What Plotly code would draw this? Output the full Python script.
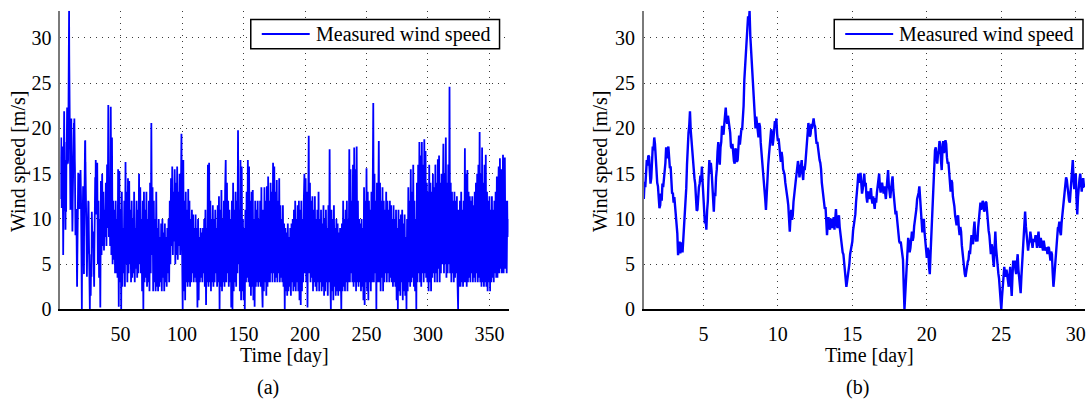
import numpy as np
import plotly.graph_objects as go

# ---------------------------------------------------------------------------
# Measured wind speed [m/s]
# January record, sampled every 0.05 day starting on day 1 (one row per day)
speed_jan = [
    12.2, 14.1, 13.5, 15.2, 16.5, 15.9, 17.0, 16.9, 15.5, 13.9, 14.5, 16.8, 18.0, 17.6, 19.0, 18.3, 16.5, 15.1, 14.0, 13.6,
    12.5, 11.2, 11.5, 12.8, 12.0, 13.9, 13.5, 14.2, 15.5, 16.2, 17.9, 16.7, 17.5, 18.0, 16.8, 15.6, 15.8, 14.6, 12.8, 12.9,
    11.8, 12.4, 11.5, 10.2, 9.8, 8.4, 6.0, 7.1, 7.5, 6.2, 6.8, 7.4, 6.3, 7.6, 9.5, 11.4, 12.5, 13.4, 16.0, 18.5,
    19.5, 20.3, 21.9, 19.8, 18.5, 17.9, 16.8, 15.2, 14.5, 13.9, 12.5, 10.9, 11.0, 12.6, 13.5, 13.9, 14.8, 14.1, 15.8, 14.0,
    12.8, 10.6, 9.5, 9.9, 8.8, 10.9, 12.0, 14.6, 16.5, 15.1, 16.2, 15.3, 14.0, 11.8, 10.8, 12.9, 12.5, 14.6, 15.5, 17.4,
    18.5, 16.9, 16.0, 17.9, 18.5, 20.3, 19.8, 19.3, 20.4, 21.5, 22.3, 21.0, 20.5, 21.4, 20.8, 19.7, 19.5, 18.0, 17.8, 18.3,
    17.0, 16.4, 16.1, 17.8, 17.6, 16.3, 16.5, 18.4, 19.2, 18.2, 18.8, 19.9, 19.8, 21.1, 22.5, 25.4, 27.0, 28.3, 30.5, 31.4,
    32.4, 31.5, 33.0, 30.2, 28.8, 28.1, 26.8, 25.0, 23.5, 21.2, 20.0, 21.3, 20.5, 19.4, 19.0, 20.6, 20.2, 18.4, 17.5, 16.0,
    15.0, 14.2, 14.0, 12.2, 11.0, 13.0, 14.5, 15.9, 17.0, 18.2, 18.8, 19.9, 19.5, 18.1, 18.8, 20.1, 20.8, 20.3, 21.1, 19.4,
    18.6, 18.9, 17.6, 16.5, 16.3, 17.4, 16.8, 15.5, 15.2, 14.9, 14.0, 13.1, 13.0, 12.2, 11.5, 9.5, 8.6, 10.2, 11.0, 9.9,
    10.4, 11.9, 12.5, 13.0, 14.2, 14.9, 15.5, 16.4, 15.8, 14.6, 15.2, 16.1, 16.5, 15.0, 14.3, 15.8, 15.4, 16.2, 17.6, 18.9,
    19.5, 20.6, 20.0, 19.1, 19.4, 20.5, 20.0, 20.9, 21.1, 20.4, 20.2, 19.1, 18.3, 18.5, 17.6, 16.6, 16.5, 16.2, 15.5, 14.0,
    13.2, 12.9, 12.0, 11.1, 11.3, 9.4, 8.2, 9.5, 10.2, 9.4, 8.8, 9.9, 10.0, 9.0, 9.6, 10.2, 8.8, 10.3, 11.1, 9.6,
    9.0, 9.9, 10.4, 9.1, 8.3, 7.8, 7.0, 6.3, 6.1, 5.0, 4.7, 3.3, 2.5, 3.1, 3.6, 4.5, 5.0, 6.1, 6.5, 7.3,
    7.5, 8.7, 9.2, 10.1, 10.5, 11.9, 12.6, 13.8, 15.0, 14.6, 14.0, 15.1, 14.0, 12.8, 13.3, 14.5, 15.0, 13.6, 14.0, 12.4,
    11.8, 12.9, 13.0, 12.2, 12.8, 13.4, 12.2, 11.7, 12.5, 12.0, 11.1, 12.3, 11.8, 12.9, 13.6, 14.6, 15.0, 13.6, 12.9, 13.7,
    14.0, 13.3, 12.8, 13.6, 12.5, 12.2, 13.3, 14.4, 15.4, 13.7, 12.5, 12.3, 13.3, 14.1, 14.7, 13.2, 12.5, 11.9, 10.5, 10.9,
    10.0, 9.0, 8.5, 7.5, 7.3, 7.5, 6.8, 5.9, 5.5, 2.6, 0.0, 1.6, 3.2, 5.3, 6.8, 7.9, 7.5, 6.3, 6.8, 7.9,
    8.6, 7.6, 8.0, 9.2, 9.7, 10.7, 11.1, 12.2, 12.5, 12.9, 13.6, 12.1, 11.1, 9.3, 8.5, 9.6, 10.0, 8.5, 7.5, 6.2,
    5.7, 6.8, 6.5, 4.7, 3.9, 6.1, 8.2, 10.7, 12.5, 15.0, 16.8, 17.6, 17.9, 16.6, 16.1, 17.1, 17.5, 18.6, 18.3, 16.5,
    15.4, 17.5, 18.6, 17.3, 17.6, 18.7, 18.3, 16.8, 16.1, 16.3, 15.4, 13.8, 13.0, 14.3, 14.0, 12.5, 12.0, 11.4, 10.4, 9.6,
    9.3, 10.1, 10.4, 9.0, 8.2, 9.1, 8.6, 7.1, 6.1, 5.1, 4.7, 3.9, 3.6, 4.3, 4.5, 5.3, 5.5, 6.5, 6.1, 7.4,
    8.2, 7.5, 7.2, 8.8, 9.7, 8.3, 7.5, 8.2, 7.5, 9.1, 10.4, 11.3, 11.8, 11.0, 11.5, 12.0, 11.5, 10.8, 11.1, 11.9,
    11.8, 10.6, 9.7, 8.7, 8.2, 6.9, 6.1, 7.2, 6.8, 5.5, 4.7, 6.8, 8.6, 6.8, 5.4, 4.9, 4.0, 3.4, 2.5, 1.0,
    0.0, 1.4, 2.5, 3.9, 4.7, 4.0, 3.6, 4.4, 3.9, 2.9, 2.5, 3.8, 4.7, 2.8, 1.5, 3.6, 5.4, 4.6, 5.4, 4.4,
    3.9, 5.2, 6.1, 4.4, 3.2, 2.4, 1.8, 3.6, 5.0, 6.8, 8.2, 9.9, 10.8, 9.2, 8.2, 7.0, 6.5, 7.3, 7.5, 8.6,
    8.2, 7.4, 6.8, 7.8, 7.5, 7.6, 8.2, 7.3, 6.8, 7.9, 8.6, 7.4, 6.8, 7.9, 7.5, 6.9, 6.5, 7.6, 7.2, 6.5,
    6.8, 6.7, 6.1, 6.9, 6.8, 5.8, 5.4, 6.4, 6.1, 4.1, 2.5, 3.4, 4.7, 6.2, 7.5, 8.6, 9.0, 9.1, 9.7, 8.6,
    8.2, 9.6, 10.4, 11.3, 11.8, 12.9, 13.3, 14.6, 14.3, 13.4, 13.3, 12.0, 11.8, 13.2, 14.0, 15.6, 16.5, 14.4, 13.3, 14.6,
    15.0, 12.2, 10.5, 12.4, 13.8, 14.4, 15.0, 13.7, 13.0, 14.0, 14.5, 13.6, 13.5,
]

# Rest of the year (day 31 onwards), sampled every half day
speed_rest = [
    16.2, 5.0, 12.0, 3.5, 10.0, 0.2, 14.2, 6.0, 15.0, 7.0,
    13.0, 6.5, 11.0, 8.0, 14.0, 7.0, 16.0, 9.0, 22.6, 8.0,
    13.0, 7.0, 22.4, 6.0, 19.0, 5.0, 12.0, 5.5, 11.0, 4.0,
    12.0, 4.0, 10.0, 3.5, 15.5, 0.3, 15.3, 3.0, 11.0, 0.0,
    13.0, 2.5, 9.0, 4.0, 12.0, 2.5, 16.3, 5.0, 13.0, 3.0,
    14.5, 4.0, 14.2, 5.0, 11.0, 3.0, 12.0, 3.5, 10.0, 4.0,
    13.0, 3.0, 9.0, 4.5, 12.0, 3.5, 11.0, 4.0, 15.0, 5.0,
    13.5, 4.0, 10.0, 2.0, 12.0, 0.0, 13.0, 3.0, 11.0, 3.5,
    13.0, 2.5, 10.0, 3.0, 12.0, 2.0, 14.0, 4.0, 20.6, 6.0,
    13.5, 2.0, 12.0, 3.0, 10.0, 2.0, 13.0, 2.5, 9.0, 2.0,
    10.0, 2.5, 8.0, 3.0, 9.5, 2.0, 10.0, 3.5, 8.5, 2.0,
    9.5, 3.0, 8.0, 2.5, 9.0, 4.0, 10.0, 3.0, 12.0, 5.0,
    14.5, 7.0, 15.8, 6.0, 13.0, 7.5, 15.5, 5.0, 14.0, 6.0,
    15.8, 5.5, 13.0, 7.0, 15.0, 6.0, 12.0, 19.4, 7.0, 0.0,
    16.5, 2.0, 12.0, 1.0, 13.0, 3.0, 11.0, 2.5, 13.3, 3.0,
    12.0, 2.5, 10.0, 3.0, 11.0, 4.0, 10.5, 3.0, 9.0, 3.5,
    10.5, 3.0, 9.0, 0.2, 10.0, 1.0, 8.0, 3.0, 9.0, 3.5,
    8.5, 3.0, 9.0, 4.0, 10.0, 2.5, 11.0, 0.5, 9.0, 3.0,
    16.0, 2.5, 16.2, 3.0, 12.0, 2.0, 10.0, 3.0, 11.5, 2.5,
    10.0, 3.0, 11.0, 4.0, 9.0, 2.5, 11.5, 3.0, 12.5, 0.0,
    11.0, 2.5, 13.2, 2.0, 10.0, 3.0, 12.0, 2.5, 13.0, 16.5,
    3.0, 14.0, 4.0, 12.0, 2.5, 11.0, 3.0, 10.0, 0.2, 12.0,
    0.0, 14.0, 2.0, 11.0, 3.0, 13.0, 2.5, 12.0, 4.0, 19.8,
    5.0, 11.0, 2.0, 16.5, 1.0, 15.8, 2.0, 10.0, 1.0, 9.0,
    0.0, 11.0, 3.0, 13.0, 3.5, 16.5, 3.0, 15.8, 2.5, 12.0,
    1.5, 13.0, 2.5, 13.2, 1.0, 10.0, 0.3, 12.0, 2.5, 11.0,
    3.0, 12.0, 2.5, 10.0, 3.0, 12.0, 2.5, 13.5, 3.0, 0.2,
    11.0, 2.0, 13.5, 3.0, 12.0, 1.5, 13.6, 2.5, 14.7, 3.0,
    12.0, 3.0, 14.0, 4.0, 13.0, 3.0, 16.2, 4.0, 15.8, 3.0,
    13.0, 3.5, 14.3, 3.0, 12.0, 4.0, 14.5, 3.0, 11.5, 3.5,
    10.0, 3.0, 11.5, 2.5, 9.5, 0.0, 9.0, 2.0, 8.5, 1.5,
    9.5, 2.0, 8.0, 2.5, 9.0, 1.5, 9.5, 3.0, 10.0, 2.0,
    11.0, 2.5, 12.0, 2.0, 10.0, 3.0, 11.5, 2.0, 12.0, 1.0,
    11.0, 0.5, 12.0, 2.0, 10.0, 3.0, 12.0, 15.0, 4.0, 14.5,
    3.0, 13.0, 0.2, 12.0, 19.2, 4.0, 14.0, 3.0, 12.0, 3.5,
    12.5, 2.0, 11.0, 3.0, 12.5, 2.5, 10.0, 2.0, 11.0, 3.0,
    13.0, 2.0, 10.0, 3.0, 11.0, 2.0, 9.5, 2.5, 11.5, 1.5,
    10.0, 2.0, 11.0, 3.0, 9.0, 1.5, 11.5, 3.0, 17.7, 4.0,
    0.0, 11.0, 2.0, 10.0, 1.0, 11.5, 2.5, 9.0, 1.5, 10.0,
    2.0, 9.5, 1.5, 8.5, 2.0, 9.0, 1.0, 0.0, 9.5, 2.0,
    12.0, 2.5, 10.0, 2.0, 11.0, 3.0, 12.0, 2.0, 10.0, 3.0,
    17.7, 3.0, 15.5, 4.0, 12.0, 3.0, 16.0, 2.5, 17.9, 3.0,
    15.5, 2.0, 18.0, 3.0, 12.0, 2.5, 10.0, 3.0, 9.5, 2.0,
    10.0, 2.5, 9.0, 1.0, 13.5, 0.5, 12.0, 3.0, 15.6, 2.0,
    13.0, 1.0, 12.0, 3.0, 11.0, 2.0, 13.0, 3.0, 12.0, 22.8,
    3.0, 15.0, 4.0, 12.0, 0.0, 14.0, 3.0, 11.0, 18.6, 3.0,
    14.0, 2.0, 12.0, 3.5, 13.5, 2.0, 12.0, 3.0, 11.0, 4.0,
    13.0, 3.0, 12.0, 4.0, 11.0, 3.0, 12.0, 3.5, 11.5, 3.0,
    10.0, 2.5, 11.5, 3.0, 10.0, 2.5, 11.0, 1.0, 9.0, 0.0,
    11.0, 2.0, 10.0, 1.5, 10.5, 3.0, 11.0, 1.0, 9.5, 2.0,
    10.5, 1.5, 8.0, 0.0, 10.0, 2.0, 13.5, 3.0, 12.0, 2.5,
    15.5, 3.0, 13.0, 3.5, 16.0, 2.5, 12.0, 2.0, 10.0, 0.0,
    14.0, 3.0, 16.0, 4.0, 18.5, 3.0, 17.0, 2.5, 18.5, 4.0,
    16.0, 3.0, 18.8, 4.0, 17.5, 3.5, 14.0, 3.0, 13.0, 2.0,
    16.0, 3.0, 14.0, 2.0, 13.0, 3.5, 15.0, 4.0, 13.5, 3.0,
    16.0, 4.0, 14.0, 3.0, 16.6, 4.5, 17.0, 3.0, 14.0, 4.0,
    15.0, 5.0, 13.0, 18.3, 4.0, 15.0, 5.0, 19.0, 3.5, 14.0,
    4.0, 16.0, 5.0, 24.6, 4.0, 14.0, 3.0, 13.0, 4.0, 12.0,
    3.0, 13.0, 3.5, 12.0, 4.0, 12.5, 3.0, 0.0, 11.0, 2.5,
    12.0, 2.5, 13.0, 3.0, 11.0, 2.5, 12.0, 3.0, 17.8, 3.0,
    15.0, 2.5, 15.4, 3.0, 13.0, 3.5, 12.5, 3.0, 12.0, 4.0,
    12.5, 3.0, 11.5, 3.5, 13.0, 3.0, 14.0, 4.0, 15.0, 3.0,
    16.0, 3.5, 19.6, 3.0, 15.0, 2.5, 17.9, 3.0, 14.0, 2.5,
    16.0, 3.0, 17.1, 2.5, 13.0, 2.0, 12.0, 3.0, 12.5, 2.0,
    11.0, 3.0, 12.5, 3.5, 11.0, 3.0, 12.0, 4.0, 13.0, 3.5,
    14.7, 3.5, 12.0, 15.8, 4.0, 16.7, 4.5, 15.5, 4.0, 14.0,
    17.1, 4.0, 13.0, 16.8, 4.5, 12.0, 4.0, 12.0, 8.0, 10.0,
]

JAN_START, JAN_STEP = 1.0, 0.05
REST_START, REST_STEP = 31.0, 0.5

t_jan = JAN_START + JAN_STEP * np.arange(len(speed_jan))
t_rest = REST_START + REST_STEP * np.arange(len(speed_rest))
t_year = np.concatenate([t_jan, t_rest])
speed_year = np.concatenate([speed_jan, speed_rest])

# Axis ticks
year_ticks = [50, 100, 150, 200, 250, 300, 350]
jan_ticks = [5, 10, 15, 20, 25, 30]
speed_ticks = [0, 5, 10, 15, 20, 25, 30]

# ---------------------------------------------------------------------------
W, H = 1086, 407
FONT = "Liberation Serif, Times New Roman, serif"
BLUE = "#0000ff"


def px(x):
    return x / W


def py(y):
    return 1 - y / H


y_dom = [py(318), py(11.1)]

fig = go.Figure()
fig.add_trace(go.Scatter(
    x=t_year, y=speed_year, mode="lines", name="Measured wind speed",
    line=dict(color=BLUE, width=1.8), xaxis="x", yaxis="y",
    showlegend=False, hoverinfo="skip"))
fig.add_trace(go.Scatter(
    x=t_jan, y=speed_jan, mode="lines", name="Measured wind speed",
    line=dict(color=BLUE, width=2.4), xaxis="x2", yaxis="y2",
    showlegend=False, hoverinfo="skip"))

grid = dict(showgrid=True, gridcolor="#3a3a3a", gridwidth=1,
            griddash="1px,5px", zeroline=False, ticks="",
            tickfont=dict(family=FONT, size=20, color="black"),
            showline=True, mirror=False, ticklabeloverflow="allow")

xa = dict(grid, linecolor="black", linewidth=1.5, tickmode="array",
          ticklabelstandoff=6)
ya = dict(grid, linecolor="#7a7a7a", linewidth=1.5, tickmode="array",
          tickvals=speed_ticks, range=[0, 33], domain=y_dom,
          ticklabelstandoff=3)

fig.update_layout(
    width=W, height=H, autosize=False,
    margin=dict(l=0, r=0, t=0, b=0),
    paper_bgcolor="white", plot_bgcolor="white",
    font=dict(family=FONT, size=20, color="black"),
    xaxis=dict(xa, domain=[px(60.4), px(509)], range=[1, 365.5],
               tickvals=year_ticks, anchor="y"),
    yaxis=dict(ya, anchor="x"),
    xaxis2=dict(xa, domain=[px(644.4), 1.0], range=[1, 30.62],
                tickvals=jan_ticks, anchor="y2"),
    yaxis2=dict(ya, anchor="x2"),
)

# Legend boxes (one per panel)
shapes = []
annotations = []
for box_left in (251, 835):
    shapes.append(dict(type="rect", xref="paper", yref="paper",
                       x0=px(box_left), x1=px(box_left + 249),
                       y0=py(50), y1=py(20),
                       line=dict(color="black", width=1.5),
                       fillcolor="white", layer="above"))
    shapes.append(dict(type="line", xref="paper", yref="paper",
                       x0=px(box_left + 11), x1=px(box_left + 59),
                       y0=py(35), y1=py(35),
                       line=dict(color=BLUE, width=2), layer="above"))
    annotations.append(dict(text="Measured wind speed", xref="paper",
                            yref="paper", x=px(box_left + 63), y=py(35),
                            xanchor="left", yanchor="middle",
                            showarrow=False, font=dict(size=20)))

# Axis titles and panel captions
for ylab_x, xlab_x, cap_x, cap in ((18.5, 285, 268, "(a)"),
                                   (601, 870, 858, "(b)")):
    annotations.append(dict(text="Wind speed [m/s]", textangle=-90,
                            xref="paper", yref="paper",
                            x=px(ylab_x), y=py(166),
                            xanchor="center", yanchor="middle",
                            showarrow=False, font=dict(size=20)))
    annotations.append(dict(text="Time [day]", xref="paper", yref="paper",
                            x=px(xlab_x), y=py(365),
                            xanchor="center", yanchor="middle",
                            showarrow=False, font=dict(size=20)))
    annotations.append(dict(text=cap, xref="paper", yref="paper",
                            x=px(cap_x), y=py(398),
                            xanchor="center", yanchor="middle",
                            showarrow=False, font=dict(size=20)))

fig.update_layout(shapes=shapes, annotations=annotations)

fig.write_html("out.html")
